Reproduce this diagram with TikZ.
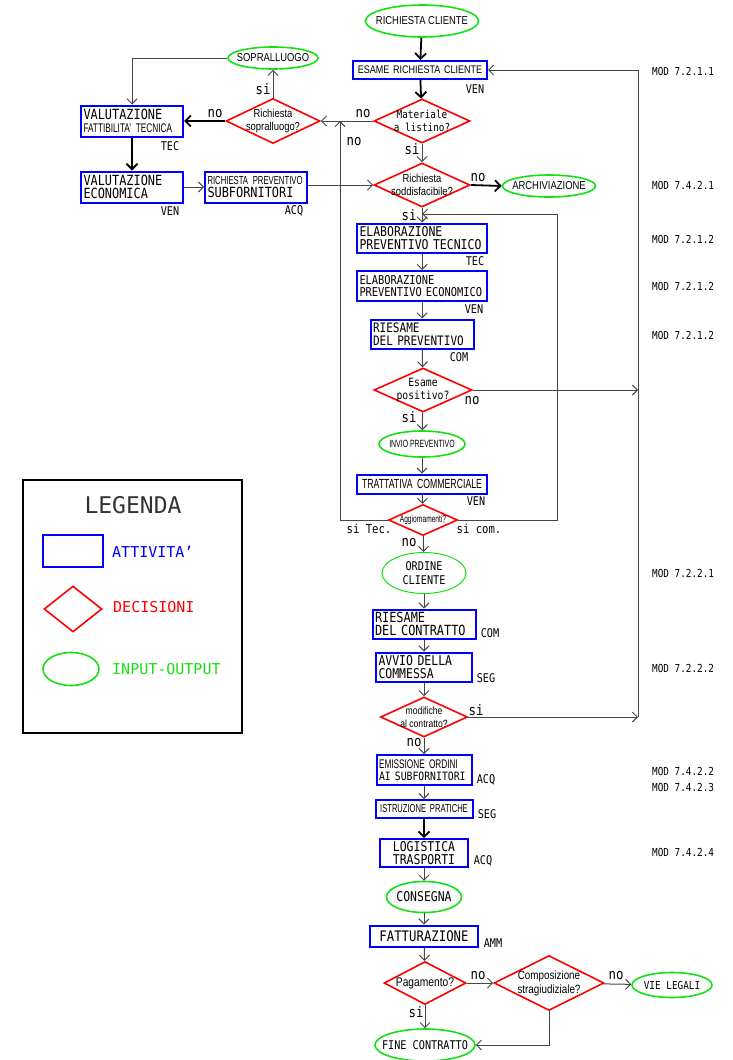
\documentclass[tikz,border=0pt]{standalone}
\usepackage{fontspec}
\usepackage{xcolor}
\usepackage{tikz}
\usetikzlibrary{positioning,shapes.geometric,arrows.meta}
\newfontfamily\wf{DejaVu Sans Mono}[FakeStretch=0.85]
\newfontfamily\nf{Liberation Sans}[FakeStretch=0.82]
\newfontfamily\cf{Liberation Sans}[FakeStretch=0.66]
\newfontfamily\lgf{DejaVu Sans Mono}
\newcommand{\wsz}[2]{\wf\fontsize{#1}{#2}\selectfont}
\newcommand{\nsz}[2]{\nf\fontsize{#1}{#2}\selectfont}
\newcommand{\csz}[2]{\cf\fontsize{#1}{#2}\selectfont}
\definecolor{attblu}{RGB}{0,0,255}
\definecolor{decred}{RGB}{255,0,0}
\definecolor{iogreen}{RGB}{20,225,20}
\definecolor{linegray}{RGB}{70,70,70}
\hyphenpenalty=10000

\begin{document}
\begin{tikzpicture}[x=1pt,y=-1pt,
    act/.style={draw=attblu,line width=2pt,rectangle,inner sep=2.5pt,align=left},
    dec/.style={draw=decred,line width=1.6pt,diamond,inner sep=0pt},
    io/.style={draw=iogreen,line width=1.6pt,ellipse,inner sep=0pt},
    txt/.style={align=center,inner sep=0pt},
    lbl/.style={inner sep=0pt,font=\wsz{12}{12}},
    yn/.style={inner sep=0pt,font=\wsz{14.5}{14.5}},
    arr/.style={draw=linegray,line width=1pt,-{Straight Barb[length=5pt,width=10pt]}},
    thk/.style={draw=black,line width=1.8pt,-{Straight Barb[length=5.5pt,width=11pt]}}]

      \useasboundingbox (0,0) rectangle (733,1060);

      \node[io, minimum width=113pt, minimum height=32pt, label={[txt, font=\nsz{11.5}{12}]center:RICHIESTA CLIENTE}] (rc) at (422,21) {};
      \node[io, minimum width=90pt, minimum height=22pt, label={[txt, font=\nsz{11.5}{12}]center:SOPRALLUOGO}] (sop) at (273,58) {};
      \node[io, minimum width=93pt, minimum height=22pt, label={[txt, font=\nsz{11.5}{12}]center:ARCHIVIAZIONE}] (arch) at (549,186) {};
      \node[io, minimum width=86pt, minimum height=26pt, label={[txt, font=\csz{10.5}{11}]center:INVIO PREVENTIVO}] (inv) at (422,444) {};
      \node[io, line width=1pt, minimum width=84pt, minimum height=41pt, label={[txt, font=\wsz{12}{14}]center:ORDINE\\CLIENTE}] (ord) at (424,573) {};
      \node[io, minimum width=75pt, minimum height=31pt, label={[txt, font=\wsz{13.5}{14}]center:CONSEGNA}] (cons) at (424,897) {};
      \node[io, minimum width=80pt, minimum height=25pt, label={[txt, font=\wsz{11}{12}]center:VIE LEGALI}] (vie) at (672,985) {};
      \node[io, minimum width=100pt, minimum height=32pt, label={[txt, font=\wsz{12}{12}]center:FINE CONTRATTO}] (fine) at (425,1045) {};

      \node[act, align=center, text width=129pt, minimum height=18pt, font=\nsz{11}{12}] (erc) at (420,70) {ESAME RICHIESTA CLIENTE};
      \node[act, text width=97pt, minimum height=31pt, font=\wsz{14}{13.5}] (vft) at (132,121) {VALUTAZIONE\\{\csz{12.5}{13.5}FATTIBILITA’ TECNICA}};
      \node[act, text width=97pt, minimum height=31pt, font=\wsz{14}{13.5}] (ve) at (132,187) {VALUTAZIONE\\ECONOMICA};
      \node[act, text width=97pt, minimum height=31pt, font=\wsz{14}{13.5}] (rps) at (256,187) {{\csz{11.7}{13.5}RICHIESTA PREVENTIVO}\\SUBFORNITORI};
      \node[act, text width=125pt, minimum height=29pt, font=\wsz{13.5}{12.7}] (ept) at (422,238) {ELABORAZIONE\\PREVENTIVO TECNICO};
      \node[act, text width=125pt, minimum height=30pt, font=\wsz{12.2}{12.7}] (epe) at (422,286) {ELABORAZIONE\\PREVENTIVO ECONOMICO};
      \node[act, text width=98pt, minimum height=29pt, font=\wsz{13}{12.7}] (rp) at (422,334) {RIESAME\\DEL PREVENTIVO};
      \node[act, align=center, text width=125pt, minimum height=19pt, font=\csz{13.2}{12}] (tc) at (422,484) {TRATTATIVA COMMERCIALE};
      \node[act, text width=98pt, minimum height=29pt, font=\wsz{14}{12.7}] (rct) at (424,624) {RIESAME\\DEL CONTRATTO};
      \node[act, text width=91pt, minimum height=29pt, font=\wsz{13.5}{12.5}] (avv) at (424,667) {AVVIO DELLA\\COMMESSA};
      \node[act, text width=90pt, minimum height=30pt, font=\csz{12.5}{12.5}] (emi) at (424,770) {EMISSIONE ORDINI\\{\wsz{11.5}{12.5}AI SUBFORNITORI}};
      \node[act, align=center, text width=92pt, minimum height=18pt, font=\csz{11.5}{10}] (ist) at (424,809) {ISTRUZIONE PRATICHE};
      \node[act, align=center, text width=83pt, minimum height=27pt, font=\wsz{13.5}{12.5}] (log) at (424,853) {LOGISTICA\\TRASPORTI};
      \node[act, align=center, text width=103pt, minimum height=21pt, font=\wsz{14.5}{14}] (fat) at (424,936) {FATTURAZIONE};

      \node[dec, minimum width=94pt, minimum height=45pt, label={[txt, font=\nsz{11.5}{13}]center:Richiesta\\sopralluogo?}] (rs) at (273,121) {};
      \node[dec, minimum width=96pt, minimum height=44pt, label={[txt, font=\wsz{11}{13}]center:Materiale\\a listino?}] (ml) at (422,121) {};
      \node[dec, minimum width=96pt, minimum height=44pt, label={[txt, font=\nsz{11.5}{13}]center:Richiesta\\soddisfacibile?}] (rsod) at (422,185) {};
      \node[dec, minimum width=98pt, minimum height=44pt, label={[txt, font=\wsz{11.5}{13}]center:Esame\\positivo?}] (ep) at (423,390) {};
      \node[dec, minimum width=69pt, minimum height=31pt, label={[txt, font=\csz{10}{10}]center:Aggiornamenti?}] (agg) at (423,520) {};
      \node[dec, minimum width=87pt, minimum height=40pt, label={[txt, font=\nsz{10.5}{12.5}]center:modifiche\\al contratto?}] (mdc) at (424,717) {};
      \node[dec, minimum width=82pt, minimum height=43pt, label={[txt, font=\nsz{12.5}{12}]center:Pagamento?}] (pag) at (425,983) {};
      \node[dec, minimum width=110pt, minimum height=55pt, label={[txt, font=\nsz{12}{14}]center:Composizione\\stragiudiziale?}] (comp) at (549,983) {};

      \node[lbl] (ven1) at (475,89) {VEN};
      \node[lbl] (tec1) at (170,146) {TEC};
      \node[lbl] (ven2) at (170,211) {VEN};
      \node[lbl] (acq1) at (294,211) {ACQ};
      \node[lbl] (tec2) at (475,261) {TEC};
      \node[lbl] (ven3) at (474,309) {VEN};
      \node[lbl] (com1) at (459,357) {COM};
      \node[lbl] (ven4) at (476,501) {VEN};
      \node[lbl] (com2) at (490,633) {COM};
      \node[lbl] (seg1) at (486,678) {SEG};
      \node[lbl] (acq2) at (486,780) {ACQ};
      \node[lbl] (seg2) at (487,814) {SEG};
      \node[lbl] (acq3) at (483,861) {ACQ};
      \node[lbl] (amm1) at (493,943) {AMM};

      \node[yn] (si1) at (263,89) {si};
      \node[yn] (no1) at (215,114) {no};
      \node[yn] (no2) at (363,114) {no};
      \node[yn] (no3) at (354,142) {no};
      \node[yn] (si2) at (412,149) {si};
      \node[yn] (no4) at (478,178) {no};
      \node[yn] (si3) at (409,215) {si};
      \node[yn] (no5) at (472,401) {no};
      \node[yn] (si4) at (409,417) {si};
      \node[lbl, font=\wsz{12.5}{12}] (sitec) at (369,529) {si Tec.};
      \node[lbl, font=\wsz{12.5}{12}] (sicom) at (479,529) {si com.};
      \node[yn] (no6) at (409,543) {no};
      \node[yn] (si5) at (476,710) {si};
      \node[yn] (no7) at (414,743) {no};
      \node[yn] (no8) at (478,976) {no};
      \node[yn] (no9) at (616,976) {no};
      \node[yn] (si6) at (416,1012) {si};

      \node[lbl, anchor=west, font=\wsz{11}{11}] (m1) at (652,71) {MOD 7.2.1.1};
      \node[lbl, anchor=west, font=\wsz{11}{11}] (m2) at (652,185) {MOD 7.4.2.1};
      \node[lbl, anchor=west, font=\wsz{11}{11}] (m3) at (652,239) {MOD 7.2.1.2};
      \node[lbl, anchor=west, font=\wsz{11}{11}] (m4) at (652,286) {MOD 7.2.1.2};
      \node[lbl, anchor=west, font=\wsz{11}{11}] (m5) at (652,335) {MOD 7.2.1.2};
      \node[lbl, anchor=west, font=\wsz{11}{11}] (m6) at (652,573) {MOD 7.2.2.1};
      \node[lbl, anchor=west, font=\wsz{11}{11}] (m7) at (652,668) {MOD 7.2.2.2};
      \node[lbl, anchor=west, font=\wsz{11}{11}] (m8) at (652,771) {MOD 7.4.2.2};
      \node[lbl, anchor=west, font=\wsz{11}{11}] (m9) at (652,787) {MOD 7.4.2.3};
      \node[lbl, anchor=west, font=\wsz{11}{11}] (m10) at (652,852) {MOD 7.4.2.4};

      \node[draw, line width=2pt, minimum width=219pt, minimum height=253pt] (leg) at (132.5,606.5) {};
      \node[inner sep=0pt, text=black!80, font=\lgf\fontsize{23}{23}\selectfont] (legt) at (133,505) {LEGENDA};
      \node[act, minimum width=60pt, minimum height=32pt] (lact) at (73,551) {};
      \node[dec, minimum width=58pt, minimum height=46pt] (ldec) at (73,609) {};
      \node[io, minimum width=56pt, minimum height=33pt] (lio) at (71,669) {};
      \node[inner sep=0pt, anchor=west, text=attblu, font=\lgf\fontsize{15}{15}\selectfont] (tact) at (112,552) {ATTIVITA’};
      \node[inner sep=0pt, anchor=west, text=decred, font=\lgf\fontsize{15}{15}\selectfont] (tdec) at (113,607) {DECISIONI};
      \node[inner sep=0pt, anchor=west, text=iogreen, font=\lgf\fontsize{15}{15}\selectfont] (tio) at (112,669) {INPUT-OUTPUT};

      \coordinate (rtop) at (638,70);
      \coordinate (lx) at (340,121);
      \coordinate (rx) at (557,214);

      \draw[thk] (rc) -- (erc);
      \draw[thk] (erc) -- (ml);
      \draw[arr] (ml.west) -- (rs.east);
      \draw[arr] (rs.north) -- (sop.south);
      \draw[arr] (sop.west) -| (vft.north);
      \draw[thk] (rs.west) -- (vft.east);
      \draw[thk] (vft) -- (ve);
      \draw[arr] (ve) -- (rps);
      \draw[arr] (rps.east |- rsod.west) -- (rsod.west);
      \draw[arr] (ml.south) -- (rsod.north);
      \draw[thk] (rsod.east) -- (arch.west);
      \draw[arr] (rsod.south) -- (ept.north);
      \draw[arr] (ept) -- (epe);
      \draw[arr] (epe) -- (rp);
      \draw[arr] (rp) -- (ep);
      \draw[arr] (ep) -- (inv);
      \draw[arr] (inv) -- (tc);
      \draw[arr] (tc) -- (agg);
      \draw[arr] (agg) -- (ord);
      \draw[arr] (ord) -- (rct);
      \draw[arr] (rct) -- (avv);
      \draw[arr] (avv) -- (mdc);
      \draw[arr] (mdc) -- (emi);
      \draw[arr] (emi) -- (ist);
      \draw[thk] (ist) -- (log);
      \draw[arr] (log) -- (cons);
      \draw[arr] (cons) -- (fat);
      \draw[arr] (fat) -- (pag);
      \draw[arr] (pag) -- (fine);
      \draw[arr] (pag) -- (comp);
      \draw[arr] (comp) -- (vie);
      \draw[arr] (comp.south) |- (fine.east);

      \draw[arr] (agg.west) -| (lx);
      \draw[arr] (agg.east) -| (rx) -- (rx -| rsod.south);
      \draw[arr] (ep.east) -- (ep.east -| rtop);
      \draw[arr] (mdc.east) -- (mdc.east -| rtop);
      \draw[arr] (rtop |- mdc.east) -- (rtop) -- (erc.east);
    \end{tikzpicture}
\end{document}
